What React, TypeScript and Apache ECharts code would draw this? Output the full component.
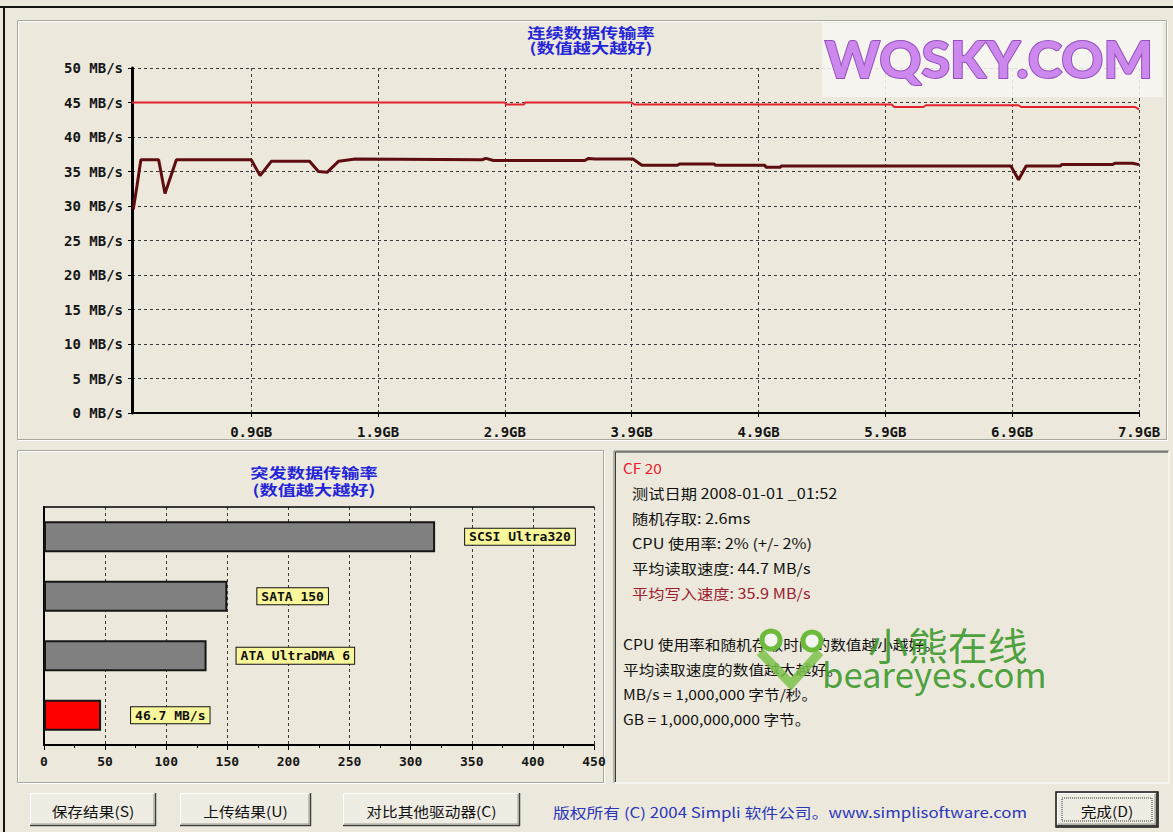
import React, { useEffect, useRef } from "react";
import * as echarts from "echarts";

// ---------------- data ----------------
const xTickGB = [0.9, 1.9, 2.9, 3.9, 4.9, 5.9, 6.9, 7.9];

const readGB = [-0.04, 2.9, 2.91, 3.05, 3.06, 3.9, 3.92, 5.95, 5.97, 6.2, 6.22, 6.95, 6.97, 7.87, 7.9];
const readMBs = [45.0, 45.0, 44.7, 44.7, 45.0, 45.0, 44.7, 44.7, 44.35, 44.35, 44.6, 44.6, 44.35, 44.35, 44.0];

const writeGB = [
  -0.03, 0.0, 0.03, 0.17, 0.22, 0.31, 0.9, 0.97, 1.06, 1.36, 1.43, 1.5, 1.59, 1.72, 2.72, 2.75, 2.81, 3.53, 3.56,
  3.61, 3.91, 3.98, 4.26, 4.28, 4.55, 4.56, 4.95, 4.96, 5.07, 5.08, 6.89, 6.95, 7.01, 7.28, 7.29, 7.69, 7.71, 7.85, 7.9,
];
const writeMBs = [
  29.5, 33.0, 36.7, 36.7, 31.8, 36.7, 36.7, 34.4, 36.5, 36.5, 35.0, 34.9, 36.5, 36.8, 36.7, 36.9, 36.6, 36.6, 36.9,
  36.8, 36.8, 35.9, 35.9, 36.1, 36.1, 35.9, 35.9, 35.6, 35.6, 35.8, 35.8, 33.8, 35.8, 35.8, 36.0, 36.0, 36.2, 36.2, 36.0,
];

const burstCategories = ["SCSI Ultra320", "SATA 150", "ATA UltraDMA 6", "CF 20"];
const burstValues = [320, 150, 133, 46.7];
const burstLabels = ["SCSI Ultra320", "SATA 150", "ATA UltraDMA 6", "46.7 MB/s"];

const topTitle = ["连续数据传输率", "(数值越大越好)"];
const burstTitle = ["突发数据传输率", "(数值越大越好)"];

const infoHeader = "CF 20";
const infoLines = [
  "测试日期 2008-01-01 _01:52",
  "随机存取: 2.6ms",
  "CPU 使用率: 2% (+/- 2%)",
  "平均读取速度: 44.7 MB/s",
  "平均写入速度: 35.9 MB/s",
];
const noteLines = [
  "CPU 使用率和随机存取时间的数值越小越好。",
  "平均读取速度的数值越大越好。",
  "MB/s = 1,000,000 字节/秒。",
  "GB = 1,000,000,000 字节。",
];
const buttonLabels = ["保存结果(S)", "上传结果(U)", "对比其他驱动器(C)", "完成(D)"];
const copyright = "版权所有 (C) 2004 Simpli 软件公司。www.simplisoftware.com";

// ---------------- styling helpers ----------------
const BG = "#ECE9DC";
const MONO = "'DejaVu Sans Mono', 'Liberation Mono', monospace";
const CJK = "'Noto Sans CJK SC', 'Noto Sans', sans-serif";
const BLUE = "#2424D8";

function txt(text: string, x: number, y: number, o: any = {}) {
  return {
    type: "text",
    x,
    y,
    scaleX: o.scaleX ?? 1,
    z: o.z ?? 20,
    style: {
      text,
      fill: o.fill ?? "#111",
      font: o.font ?? `14px ${CJK}`,
      textAlign: o.align ?? "left",
      align: o.align ?? "left",
      textVerticalAlign: "middle",
      verticalAlign: "middle",
      stroke: o.stroke,
      lineWidth: o.lineWidth,
      opacity: o.opacity ?? 1,
    },
  };
}

function ln(x1: number, y1: number, x2: number, y2: number, stroke: string, w = 1, z = 1) {
  return { type: "line", z, shape: { x1, y1, x2, y2 }, style: { stroke, lineWidth: w } };
}

function button(x: number, y: number, w: number, h: number, label: string, isDefault: boolean) {
  const els: any[] = [
    { type: "rect", z: 5, shape: { x, y, width: w, height: h }, style: { fill: "#EFEDE3" } },
    ln(x, y + 0.5, x + w, y + 0.5, "#FFFFFF", 1, 6),
    ln(x + 0.5, y, x + 0.5, y + h, "#FFFFFF", 1, 6),
    ln(x, y + h - 0.5, x + w, y + h - 0.5, "#404040", 1.5, 6),
    ln(x + w - 0.5, y, x + w - 0.5, y + h, "#404040", 1.5, 6),
    ln(x + 1, y + h - 2, x + w - 1, y + h - 2, "#9D9B90", 1, 6),
    ln(x + w - 2, y + 1, x + w - 2, y + h - 1, "#9D9B90", 1, 6),
  ];
  if (isDefault) {
    els.push({
      type: "rect",
      z: 6,
      shape: { x: x - 1, y: y - 1, width: w + 2, height: h + 2 },
      style: { fill: "none", stroke: "#111", lineWidth: 1.5 },
    });
    els.push({
      type: "rect",
      z: 6,
      shape: { x: x + 5, y: y + 5, width: w - 10, height: h - 10 },
      style: { fill: "none", stroke: "#333", lineWidth: 1, lineDash: [1, 1] },
    });
  }
  els.push(txt(label, x + w / 2, y + h / 2 + 1, { align: "center", scaleX: 1.12, z: 7, font: `14px ${CJK}` }));
  return els;
}

export default function App() {
  const ref = useRef<HTMLDivElement>(null);

  useEffect(() => {
    if (!ref.current) return;
    const chart = echarts.init(ref.current, undefined, { renderer: "svg" });

    const readData = readGB.map((g, i) => [g, readMBs[i]]);
    const writeData = writeGB.map((g, i) => [g, writeMBs[i]]);

    const graphics: any[] = [];
    // window frame
    graphics.push(ln(0, 7, 1173, 7, "#151515", 2, 1));
    graphics.push(ln(4, 6, 4, 832, "#151515", 2, 1));
    // top panel (etched group box)
    graphics.push({ type: "rect", z: 0, shape: { x: 18.5, y: 21.5, width: 1149, height: 419 }, style: { fill: "none", stroke: "#FFFFFF", lineWidth: 1 } });
    graphics.push({ type: "rect", z: 0, shape: { x: 17.5, y: 20.5, width: 1149, height: 419 }, style: { fill: "none", stroke: "#A8A699", lineWidth: 1 } });
    // bottom-left panel
    graphics.push({ type: "rect", z: 0, shape: { x: 18.5, y: 451.5, width: 586, height: 332 }, style: { fill: "none", stroke: "#FFFFFF", lineWidth: 1 } });
    graphics.push({ type: "rect", z: 0, shape: { x: 17.5, y: 450.5, width: 586, height: 332 }, style: { fill: "none", stroke: "#A8A699", lineWidth: 1 } });
    // text panel (sunken)
    graphics.push(ln(614, 451, 1169, 451, "#7C7A70", 1, 1));
    graphics.push(ln(614, 451, 614, 783, "#7C7A70", 1, 1));
    graphics.push(ln(615.5, 452, 1168, 452, "#3A3A3A", 1, 1));
    graphics.push(ln(615.5, 452, 615.5, 782, "#3A3A3A", 1, 1));
    graphics.push(ln(614, 783, 1169, 783, "#FFFFFF", 1, 1));
    graphics.push(ln(1169, 451, 1169, 783, "#FFFFFF", 1, 1));

    // titles
    graphics.push(txt(topTitle[0], 591, 32, { align: "center", fill: BLUE, font: `bold 14px ${CJK}`, scaleX: 1.3 }));
    graphics.push(txt(topTitle[1], 591, 47, { align: "center", fill: BLUE, font: `bold 14px ${CJK}`, scaleX: 1.3 }));
    graphics.push(txt(burstTitle[0], 314, 472, { align: "center", fill: BLUE, font: `bold 14px ${CJK}`, scaleX: 1.3 }));
    graphics.push(txt(burstTitle[1], 314, 489, { align: "center", fill: BLUE, font: `bold 14px ${CJK}`, scaleX: 1.3 }));

    // info text
    graphics.push(txt(infoHeader, 623, 468, { fill: "#E8202A", font: `14px ${CJK}`, scaleX: 1.1 }));
    infoLines.forEach((t, i) => {
      graphics.push(
        txt(t, 632, 493 + i * 25, { fill: i === 4 ? "#9B2030" : "#111", font: `14px ${CJK}`, scaleX: 1.16 })
      );
    });
    noteLines.forEach((t, i) => {
      graphics.push(txt(t, 623, 644 + i * 25, { fill: "#111", font: `14px ${CJK}`, scaleX: 1.12 }));
    });

    // beareyes watermark
    graphics.push({ type: "circle", z: 30, shape: { cx: 771, cy: 640, r: 9 }, style: { fill: "#F4F4F0", stroke: "#6DBB3C", lineWidth: 5 } });
    graphics.push({ type: "circle", z: 30, shape: { cx: 812, cy: 641, r: 9 }, style: { fill: "#F4F4F0", stroke: "#6DBB3C", lineWidth: 5 } });
    graphics.push({
      type: "polyline",
      z: 29,
      shape: { points: [[760, 652], [791, 684], [820, 652]] },
      style: { fill: "none", stroke: "#7DC24A", lineWidth: 9, opacity: 0.85 },
    });
    graphics.push(txt("小熊在线", 868, 643, { fill: "#3E9A2E", font: `38px ${CJK}`, z: 31, opacity: 0.92, scaleX: 1.05 }));
    graphics.push(txt("beareyes.com", 822, 673, { fill: "#3E9A2E", font: `34px ${CJK}`, z: 31, opacity: 0.92, scaleX: 1.02 }));

    // WQSKY watermark
    graphics.push({ type: "rect", z: 25, shape: { x: 822, y: 23, width: 341, height: 74 }, style: { fill: "#F6F5F1", opacity: 0.88 } });
    graphics.push(
      txt("WQSKY.COM", 989, 58, {
        align: "center",
        fill: "#CC88EC",
        stroke: "#9550BC",
        lineWidth: 2,
        font: `900 52px Lato, 'Open Sans', sans-serif`,
        z: 26,
        scaleX: 1.0,
      })
    );

    // buttons
    const bx = [
      [30, 126],
      [180, 131],
      [343, 177],
      [1057, 100],
    ];
    buttonLabels.forEach((b, i) => {
      graphics.push(...button(bx[i][0], 793, bx[i][1], 33, b, i === 3));
    });
    graphics.push(txt(copyright, 553, 812, { fill: "#2A36B8", font: `14px ${CJK}`, scaleX: 1.2 }));

    const axisFont = { fontFamily: MONO, fontWeight: "bold" as const, fontSize: 14, color: "#151515" };

    chart.setOption({
      animation: false,
      backgroundColor: BG,
      grid: [
        { left: 132, top: 68, right: 34, bottom: 419 },
        { left: 44, top: 507, right: 579, bottom: 87 },
      ],
      xAxis: [
        {
          gridIndex: 0,
          type: "value",
          min: -0.04,
          max: 7.9,
          axisLine: { show: true, onZero: false, lineStyle: { color: "#000", width: 2 } },
          axisTick: { show: true, customValues: xTickGB, length: 4, lineStyle: { color: "#000" } },
          axisLabel: {
            customValues: xTickGB,
            formatter: (v: number) => v.toFixed(1) + "GB",
            margin: 12,
            ...axisFont,
          },
          splitLine: { show: true, lineStyle: { color: "#3A3A3A", type: [3, 3], width: 1 } },
        },
        {
          gridIndex: 1,
          type: "value",
          min: 0,
          max: 450,
          interval: 50,
          axisLine: { show: true, onZero: false, lineStyle: { color: "#000", width: 2 } },
          axisTick: { show: true, length: 5, lineStyle: { color: "#000" } },
          minorTick: { show: true, splitNumber: 2, length: 3, lineStyle: { color: "#000" } },
          axisLabel: { margin: 10, ...axisFont, fontSize: 13 },
          splitLine: { show: true, lineStyle: { color: "#3A3A3A", type: [3, 3], width: 1 } },
        },
        {
          gridIndex: 1,
          type: "value",
          position: "top",
          min: 0,
          max: 450,
          axisLine: { show: true, onZero: false, lineStyle: { color: "#000", width: 1.5 } },
          axisTick: { show: false },
          axisLabel: { show: false },
          splitLine: { show: false },
        },
      ],
      yAxis: [
        {
          gridIndex: 0,
          type: "value",
          min: 0,
          max: 50,
          interval: 5,
          axisLine: { show: true, onZero: false, lineStyle: { color: "#000", width: 3 } },
          axisTick: { show: true, length: 4, lineStyle: { color: "#000" } },
          axisLabel: { formatter: (v: number) => `${v} MB/s`, margin: 9, ...axisFont },
          splitLine: { show: true, lineStyle: { color: "#3A3A3A", type: [3, 3], width: 1 } },
        },
        {
          gridIndex: 1,
          type: "category",
          data: burstCategories,
          inverse: true,
          axisLine: { show: true, onZero: false, lineStyle: { color: "#000", width: 2 } },
          axisTick: { show: false },
          axisLabel: { show: false },
          splitLine: { show: false },
        },
      ],
      series: [
        {
          type: "line",
          name: "读取",
          xAxisIndex: 0,
          yAxisIndex: 0,
          data: readData,
          showSymbol: false,
          symbol: "none",
          lineStyle: { color: "#E4222C", width: 2 },
          z: 3,
        },
        {
          type: "line",
          name: "写入",
          xAxisIndex: 0,
          yAxisIndex: 0,
          data: writeData,
          showSymbol: false,
          symbol: "none",
          lineStyle: { color: "#5E0C10", width: 3 },
          z: 4,
        },
        {
          type: "bar",
          name: "突发",
          xAxisIndex: 1,
          yAxisIndex: 1,
          barWidth: 31,
          data: burstValues.map((v, i) => ({
            value: v,
            itemStyle: { color: i === 3 ? "#FF0000" : "#808080" },
          })),
          itemStyle: { borderColor: "#161616", borderWidth: 2 },
          label: {
            show: true,
            position: "right",
            distance: 30,
            formatter: (p: any) => burstLabels[p.dataIndex],
            backgroundColor: "#F9F79C",
            borderColor: "#111",
            borderWidth: 1,
            padding: [2, 4, 1, 4],
            fontFamily: MONO,
            fontWeight: "bold",
            fontSize: 13,
            color: "#111",
          },
          z: 3,
        },
      ],
      graphic: { elements: graphics },
    });

    return () => chart.dispose();
  }, []);

  return (
    <div
      ref={ref}
      style={{ position: "fixed", left: 0, top: 0, width: 1173, height: 832 }}
    />
  );
}
